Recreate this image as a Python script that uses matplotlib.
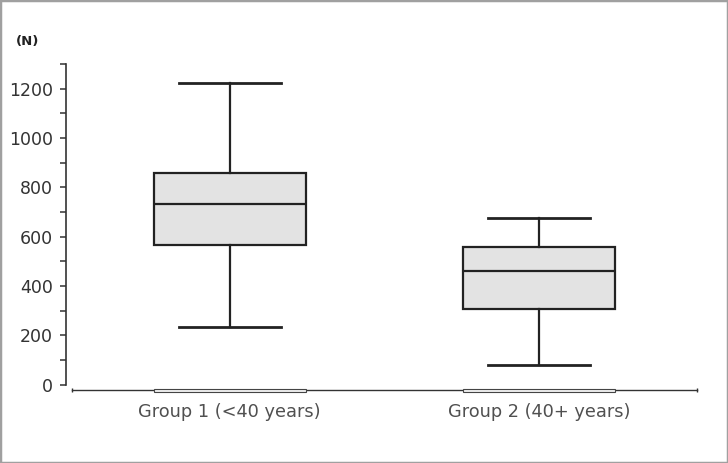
import matplotlib
matplotlib.use('Agg')
import matplotlib.pyplot as plt
import matplotlib.transforms as mtrans
from matplotlib.patches import Rectangle

# values (N)
groups = ['Group 1 (<40 years)', 'Group 2 (40+ years)']
whisker_low = [232, 80]
q1 = [565, 306]
median = [732, 460]
q3 = [858, 557]
whisker_high = [1225, 675]

positions = [1, 2]
box_w = 0.49
cap_w = 0.33
dark = '#222222'

fig = plt.figure(figsize=(7.28, 4.63), dpi=100)
ax = fig.add_axes([0.0989, 0.1695, 0.8585, 0.6922])

stats = []
for i in range(len(groups)):
    stats.append({'label': groups[i], 'whislo': whisker_low[i], 'q1': q1[i],
                  'med': median[i], 'q3': q3[i], 'whishi': whisker_high[i],
                  'fliers': []})

ax.bxp(stats, positions=positions, widths=box_w, capwidths=cap_w,
       showfliers=False, patch_artist=True,
       boxprops=dict(facecolor='#e3e3e3', edgecolor=dark, linewidth=1.6),
       medianprops=dict(color=dark, linewidth=1.6),
       whiskerprops=dict(color=dark, linewidth=1.6),
       capprops=dict(color=dark, linewidth=2.0))

ax.set_xlim(0.49, 2.51)
ax.set_ylim(0, 1300)

# y axis
ax.set_yticks(range(0, 1201, 200))
ax.set_yticks(range(100, 1301, 200), minor=True)
ax.tick_params(axis='y', which='both', length=4.5, width=1.1, color='#333333',
               pad=5, labelsize=12.5, labelcolor='#333333')
for lab in ax.get_yticklabels():
    lab.set_family(['Liberation Sans', 'DejaVu Sans'])

# x axis
ax.set_xticks(positions)
ax.set_xticklabels(groups)
ax.set_xticks([0.49, 2.51], minor=True)
ax.tick_params(axis='x', which='major', length=0, pad=9, labelsize=12.8,
               labelcolor='#505050')
ax.tick_params(axis='x', which='minor', length=3, width=1, direction='inout',
               color='#333333')

for side in ['top', 'right']:
    ax.spines[side].set_visible(False)
ax.spines['left'].set_position(('outward', 4.3))
ax.spines['bottom'].set_position(('outward', 4.3))
ax.spines['left'].set_linewidth(1.2)
ax.spines['bottom'].set_linewidth(1.0)
ax.spines['left'].set_color('#333333')
ax.spines['bottom'].set_color('#333333')

# thin bars on the x axis under each box
trans = mtrans.blended_transform_factory(ax.transData, ax.transAxes)
for p in positions:
    ax.add_patch(Rectangle((p - box_w / 2, -0.0234), box_w, 0.0094,
                           transform=trans, clip_on=False,
                           facecolor='#f0f0f0', edgecolor='#444444',
                           linewidth=0.8, zorder=3))

fig.text(0.0385, 0.911, '(N)', fontsize=9.5, fontweight='bold', color='#222222',
         ha='center', va='center')

# grey frame round the picture
fig.patches.append(Rectangle((0, 0), 1, 1, transform=fig.transFigure,
                             fill=False, edgecolor='#a0a0a0', linewidth=2.5))

fig.savefig('out.png', dpi=100)
